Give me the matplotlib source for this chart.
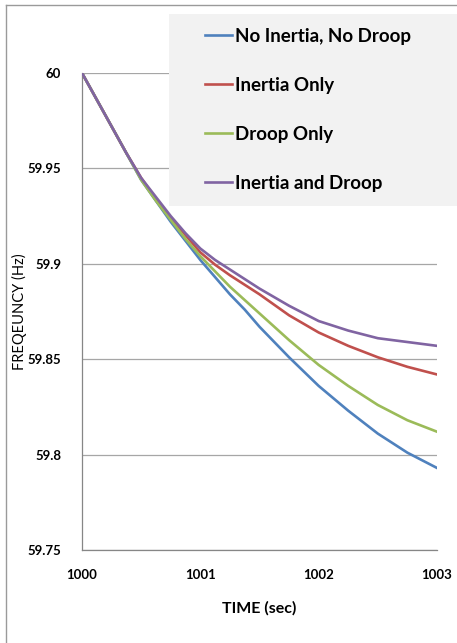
import matplotlib
matplotlib.use("Agg")
import matplotlib.pyplot as plt
from matplotlib.patches import Rectangle
from matplotlib.lines import Line2D

plt.rcParams['font.family'] = ['Lato', 'DejaVu Sans']

# values
time = [1000, 1000.25, 1000.375, 1000.5, 1000.625, 1000.75, 1000.875, 1001,
        1001.125, 1001.25, 1001.375, 1001.5, 1001.75, 1002, 1002.25, 1002.5,
        1002.75, 1003]
no_inertia_no_droop = [60.000, 59.972, 59.958, 59.944, 59.933, 59.922, 59.912,
                       59.902, 59.893, 59.884, 59.876, 59.867, 59.851, 59.836,
                       59.823, 59.811, 59.801, 59.793]
inertia_only = [60.000, 59.972, 59.958, 59.945, 59.934, 59.924, 59.915,
                59.906, 59.8995, 59.894, 59.889, 59.884, 59.873, 59.864,
                59.857, 59.851, 59.846, 59.842]
droop_only = [60.000, 59.972, 59.958, 59.944, 59.933, 59.923, 59.913,
              59.904, 59.896, 59.888, 59.881, 59.874, 59.860, 59.847,
              59.836, 59.826, 59.818, 59.812]
inertia_and_droop = [60.000, 59.972, 59.958, 59.945, 59.935, 59.925, 59.916,
                     59.908, 59.902, 59.897, 59.892, 59.887, 59.878, 59.870,
                     59.865, 59.861, 59.859, 59.857]

series = [
    ("No Inertia, No Droop", no_inertia_no_droop, "#4F81BD"),
    ("Inertia Only", inertia_only, "#C0504D"),
    ("Droop Only", droop_only, "#9BBB59"),
    ("Inertia and Droop", inertia_and_droop, "#8064A2"),
]
yticks = [59.75, 59.8, 59.85, 59.9, 59.95, 60]
ytick_labels = ["59.75", "59.8", "59.85", "59.9", "59.95", "60"]
xticks = [1000, 1001, 1002, 1003]

W, H = 457, 643
fig = plt.figure(figsize=(W / 100, H / 100), dpi=100)
ax = fig.add_axes([82 / W, 1 - 550 / H, 355 / W, 477 / H])

handles = []
for name, vals, col in series:
    ln, = ax.plot(time, vals, color=col, lw=1.9, label=name, zorder=3,
                  solid_joinstyle='round')
    handles.append(ln)

ax.set_xlim(1000, 1003)
ax.set_ylim(59.75, 60)
ax.set_yticks(yticks)
ax.set_yticklabels(ytick_labels)
ax.set_xticks(xticks)
ax.set_xticklabels([str(t) for t in xticks])
ax.tick_params(length=0, labelsize=9.5)
ax.tick_params(axis='y', pad=15)
ax.tick_params(axis='x', pad=14)
for lab in ax.get_xticklabels() + ax.get_yticklabels():
    lab.set_fontweight('bold')
ax.grid(axis='y', color='#a6a6a6', lw=0.9)
ax.set_axisbelow(True)
for s in ['top', 'right']:
    ax.spines[s].set_visible(False)
for s in ['left', 'bottom']:
    ax.spines[s].set_color('#868686')
    ax.spines[s].set_linewidth(0.9)

ax.set_xlabel("TIME (sec)", fontsize=11.5, fontweight='bold', labelpad=14)
ax.set_ylabel("FREQEUNCY (Hz)", fontsize=10.5)
ax.yaxis.set_label_coords(-55 / 355, 0.5)

# legend background box
fig.patches.append(Rectangle((169 / W, 1 - 206 / H), 1 - 169 / W, 192 / H,
                             transform=fig.transFigure, facecolor='#F2F2F2',
                             edgecolor='none', zorder=5))
leg = fig.legend(handles=handles, loc='upper left',
                 bbox_to_anchor=(205 / W, 1 - 28 / H), frameon=False,
                 borderpad=0, borderaxespad=0, handlelength=1.45,
                 handletextpad=0.15, labelspacing=1.70,
                 prop={'size': 13.5, 'weight': 'bold'})
leg.set_zorder(6)

# outer chart border
fig.add_artist(Line2D([6 / W, 6 / W], [0, 1 - 5 / H], color='#9a9a9a', lw=1))
fig.add_artist(Line2D([6 / W, 1], [1 - 5 / H, 1 - 5 / H], color='#9a9a9a', lw=1))

fig.savefig("out.png", dpi=100)
